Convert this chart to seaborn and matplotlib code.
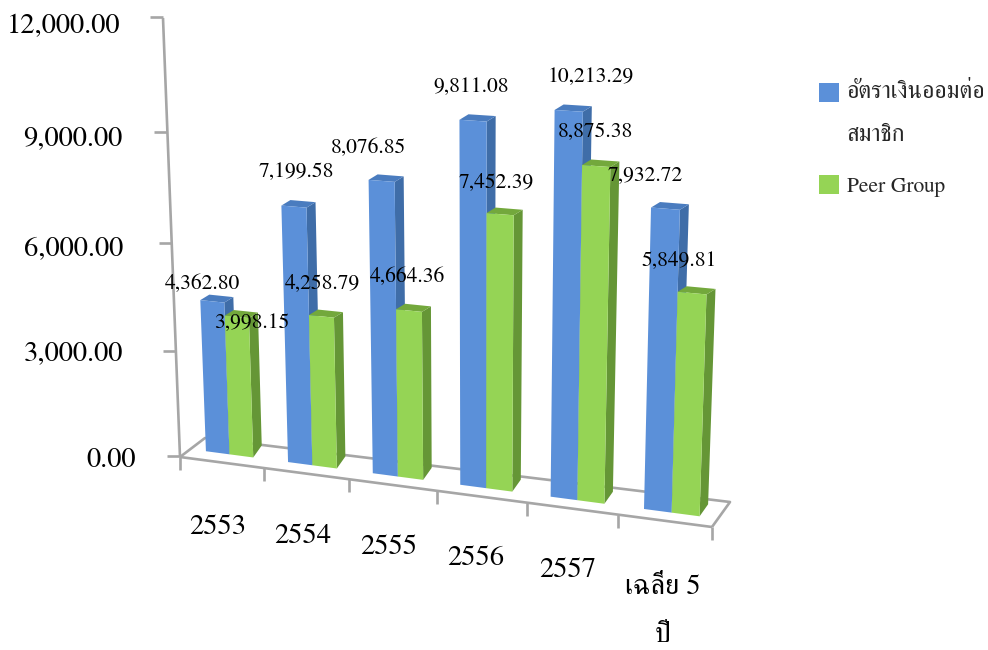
import numpy as np
import pandas as pd
import matplotlib
matplotlib.use("Agg")
import matplotlib.pyplot as plt
from matplotlib.patches import Polygon
from matplotlib.transforms import Transform, Affine2D, IdentityTransform
import seaborn as sns

years = ["2553", "2554", "2555", "2556", "2557", "เฉลี่ย 5\nปี"]
savings = [4362.80, 7199.58, 8076.85, 9811.08, 10213.29, 7932.72]
peer = [3998.15, 4258.79, 4664.36, 7452.39, 8875.38, 5849.81]
series_names = ["อัตราเงินออมต่อ\nสมาชิก", "Peer Group"]
y_ticks = [0, 3000, 6000, 9000, 12000]
y_ticklabels = ["0.00", "3,000.00", "6,000.00", "9,000.00", "12,000.00"]

W, H = 988, 650
SERIF = "Liberation Serif"
sns.set_theme(style="white")
plt.rcParams["font.family"] = ["FreeSerif", SERIF, "DejaVu Sans"]

def homography(dst):
    src = [(XL, 0), (XR, 0), (XL, VMAX), (XR, VMAX)]
    A = []
    for (u, v), (x, y) in zip(src, dst):
        A.append([u, v, 1, 0, 0, 0, -x*u, -x*v])
        A.append([0, 0, 0, u, v, 1, -y*u, -y*v])
    b = np.array(dst, float).ravel()
    return np.append(np.linalg.solve(np.array(A, float), b), 1).reshape(3, 3)

XL, XR, VMAX = -0.5, 5.5, 12000

class Plane(Transform):
    input_dims = output_dims = 2
    is_separable = False
    def __init__(self, corners):
        super().__init__()
        self.hm = homography(corners)
    def transform_non_affine(self, values):
        v = np.asarray(values, float)
        p = np.c_[v, np.ones(len(v))] @ self.hm.T
        return np.c_[p[:, 0]/p[:, 2], H - p[:, 1]/p[:, 2]]

floor_front = Plane([(180, 457), (712, 527), (163, 18), (728, 60)])
bar_plane = Plane([(189, 449), (720, 519), (172, 19), (736, 47)])

df = pd.DataFrame({
    "year": years * 2,
    "value": savings + peer,
    "series": [series_names[0]] * 6 + [series_names[1]] * 6,
})
BLUE, GREEN = "#5B90D9", "#95D455"
shade = {BLUE: ("#3F6DA8", "#4A7CBF"), GREEN: ("#659636", "#73A83C")}

fig = plt.figure(figsize=(W/100, H/100), dpi=100, facecolor="white")
ax = fig.add_axes([120/W, (H-455)/H, (712-120)/W, (455-18)/H])
sns.barplot(data=df, x="year", y="value", hue="series", hue_order=series_names,
            palette=[BLUE, GREEN], width=0.58, gap=0, saturation=1, ax=ax,
            legend=True, linewidth=0)
ax.set_xlim(XL, XR)
ax.set_ylim(0, VMAX)
ax.set_xlabel("")
ax.set_ylabel("")
for s in ax.spines.values():
    s.set_visible(False)
ax.patch.set_alpha(0)

TOP_D = np.array([9, 5.5])
BOT_D = np.array([8.5, 12])
for si, (cont, col) in enumerate(zip(ax.containers, [BLUE, GREEN])):
    for ci, bar in enumerate(cont):
        x0, w, h = bar.get_x(), bar.get_width(), bar.get_height()
        z = 10 + ci*3 + si*3
        bar.set_transform(bar_plane)
        bar.set_clip_on(False)
        bar.set_zorder(z + 2)
        tl, tr, br = bar_plane.transform([(x0, h), (x0+w, h), (x0+w, 0)])
        side = [br, tr, tr + TOP_D, br + BOT_D]
        top = [tl, tr, tr + TOP_D, tl + TOP_D]
        for poly, c, dz in ((side, shade[col][0], 1), (top, shade[col][1], 1)):
            ax.add_patch(Polygon(poly, closed=True, fc=c, ec="none", zorder=z + dz,
                                 transform=IdentityTransform(), clip_on=False))

GRAY = "#A6A6A6"
kw = dict(color=GRAY, lw=1.9, clip_on=False, zorder=3, solid_capstyle="butt")
ax.plot([XL, XR], [0, 0], transform=floor_front, **kw)
ax.plot([XL, XL], [0, VMAX], transform=floor_front, **kw)
c = floor_front.transform([(XL, 0), (XR, 0)])
back = c + np.array([[25, 19], [18, 25]])
ident = IdentityTransform()
ax.plot(*np.array([c[0], back[0], back[1], c[1]]).T, transform=ident, **kw)
for edge in np.arange(XL, XR + 0.5):
    p = floor_front.transform([(edge, 0)])[0]
    ax.plot([p[0], p[0]], [p[1], p[1]-13], transform=ident, **kw)
for v in y_ticks:
    p = floor_front.transform([(XL, v)])[0]
    ax.plot([p[0], p[0]-13], [p[1]+1, p[1]+1], transform=ident, **kw)

ax.set_yticks(y_ticks, y_ticklabels)
ax.tick_params(axis="both", length=0, pad=0, labelsize=20.5, colors="black")
ydx = [16, 3, 3, 2, 0]
ydy = [2, 5.25, 9.5, 8.75, 6]
for lab, dx, dy in zip(ax.get_yticklabels(), ydx, ydy):
    lab.set_transform(lab.get_transform() + Affine2D().translate(dx, -dy))
xdx = [48.7, 35, 22.3, 10.7, 4, 0]
xdy = [72, 81, 92, 103, 115, 156]
for lab, dx, dy in zip(ax.get_xticklabels(), xdx, xdy):
    lab.set_verticalalignment("center")
    lab.set_linespacing(2.2)
    lab.set_transform(lab.get_transform() + Affine2D().translate(dx, -dy))

label_pos = [(202, 284), (296, 172), (368, 148), (471, 87), (591, 77), (645, 175),
             (252, 323), (322, 283), (407, 277), (496, 182), (595, 132), (679, 260)]
for val, (x, y) in zip(savings + peer, label_pos):
    ax.annotate(f"{val:,.2f}", xy=(x, H - y), xycoords="figure pixels", ha="center",
                va="center", fontsize=15.5, color="black",
                annotation_clip=False, zorder=100)

sns.move_legend(ax, "upper left", bbox_to_anchor=(819/W, 1 - 82/H),
                bbox_transform=fig.transFigure, frameon=False, title=None,
                fontsize=15.5, handlelength=0.93, handleheight=1.0,
                handletextpad=0.35, labelspacing=1.33, borderpad=0, borderaxespad=0)
leg = ax.get_legend()
leg.get_texts()[0].set_fontsize(17.2)
leg.get_texts()[0].set_linespacing(2.3)
leg.legend_handles[0].set_y(leg.legend_handles[0].get_y() + 16)
fig.savefig("out.png", dpi=100, facecolor="white")
